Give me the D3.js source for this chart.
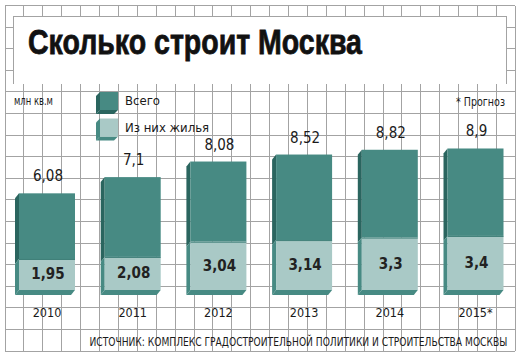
<!DOCTYPE html>
<html><head><meta charset="utf-8">
<script src="https://cdn.jsdelivr.net/npm/d3@7"></script>
<style>
html,body{margin:0;padding:0;background:#fff;}
svg{display:block;}
</style></head>
<body>
<svg id="chart" width="521" height="357"></svg>
<script>
const years = ["2010","2011","2012","2013","2014","2015*"];
const totalValues = [6.08, 7.1, 8.08, 8.52, 8.82, 8.9];
const housingValues = [1.95, 2.08, 3.04, 3.14, 3.3, 3.4];
const totalLabels = ["6,08","7,1","8,08","8,52","8,82","8,9"];
const housingLabels = ["1,95","2,08","3,04","3,14","3,3","3,4"];
const seriesNames = ["Всего","Из них жилья"];
const titleText = "Сколько строит Москва";
const unitText = "млн кв.м";
const noteText = "* Прогноз";
const sourceText = "ИСТОЧНИК: КОМПЛЕКС ГРАДОСТРОИТЕЛЬНОЙ ПОЛИТИКИ И СТРОИТЕЛЬСТВА МОСКВЫ";

const C = {grid:"#a3a3a3", teal:"#478a83", dark:"#2a655f", light:"#a9c9c6", text:"#1a1a1a"};
const narrow = "'Liberation Sans Narrow','DejaVu Sans Condensed','Liberation Sans',sans-serif";
const svg = d3.select("#chart");

// squeeze a text horizontally to a target width via transform
function fitText(sel, x, y, target) {
  const len = sel.node().getComputedTextLength();
  const k = len > target ? target / len : 1;
  sel.attr("x", 0).attr("y", 0).attr("transform", `translate(${x},${y}) scale(${k},1)`);
}

// background grid
const gx0 = 5, gdx = 18.9, nCols = 27, gy0 = 5.5, gdy = 21.6, nRows = 16;
const gx1 = gx0 + gdx*nCols, gy1 = gy0 + gdy*nRows;
const grid = svg.append("g").attr("stroke", C.grid).attr("stroke-width", 1).attr("shape-rendering","crispEdges");
grid.selectAll("line.v").data(d3.range(nCols+1)).join("line")
  .attr("x1", i => gx0 + i*gdx).attr("x2", i => gx0 + i*gdx).attr("y1", gy0).attr("y2", gy1);
grid.selectAll("line.h").data(d3.range(nRows+1)).join("line")
  .attr("y1", i => gy0 + i*gdy).attr("y2", i => gy0 + i*gdy).attr("x1", gx0).attr("x2", gx1);

// title box
svg.append("rect").attr("x", 13.5).attr("y", 16).attr("width", 492.5).attr("height", 68).attr("fill", "#fff");
svg.append("path").attr("d", "M13.5,84V16H506V84").attr("fill","none").attr("stroke", C.grid).attr("shape-rendering","crispEdges");
const title = svg.append("text").text(titleText)
  .attr("font-family", "'Liberation Sans','DejaVu Sans',sans-serif").attr("font-weight", 900)
  .attr("font-size", 36).attr("fill", "#111").attr("stroke", "#111").attr("stroke-width", 0.8);
fitText(title, 28, 54, 334);

// scales
const x = d3.scaleBand().domain(years).range([19, 503.5]).paddingInner(0.3466).paddingOuter(0);
const y = d3.scaleLinear().domain([0, 10]).range([290, 131]);
const dx = -4, dy = 5;

const bars = svg.append("g");
years.forEach((yr, i) => {
  const x0 = x(yr), w = x.bandwidth();
  const yT = y(totalValues[i]), yH = y(housingValues[i]), y0 = y(0);
  const g = bars.append("g");
  g.append("polygon").attr("points", [[x0,yT],[x0+dx,yT+dy],[x0+dx,yH+dy],[x0,yH]].join(" ")).attr("fill", C.dark);
  g.append("polygon").attr("points", [[x0,yH],[x0+dx,yH+dy],[x0+dx,y0+dy],[x0,y0]].join(" ")).attr("fill", C.teal);
  g.append("polygon").attr("points", [[x0,y0],[x0+w,y0],[x0+w+dx,y0+dy],[x0+dx,y0+dy]].join(" ")).attr("fill", C.teal);
  g.append("rect").attr("x", x0).attr("y", yT).attr("width", w).attr("height", yH - yT).attr("fill", C.teal);
  g.append("rect").attr("x", x0).attr("y", yH).attr("width", w).attr("height", y0 - yH).attr("fill", C.light);
  g.append("line").attr("x1", x0).attr("x2", x0+w).attr("y1", yH+0.5).attr("y2", yH+0.5).attr("stroke", "#3f7f78").attr("stroke-width", 1);
  g.append("text").attr("x", x0 + w/2 + 1).attr("y", yT - 12).attr("text-anchor", "middle")
    .attr("font-family", "'DejaVu Sans Condensed','Liberation Sans',sans-serif").attr("font-size", 15).attr("fill", C.text)
    .text(totalLabels[i]);
  g.append("text").attr("x", x0 + w/2 + 1).attr("y", (yH + y0)/2 + 5).attr("text-anchor", "middle")
    .attr("font-family", "'DejaVu Sans Condensed','Liberation Sans',sans-serif").attr("font-weight", 600).attr("font-size", 15).attr("fill", "#222")
    .text(housingLabels[i]);
  g.append("text").attr("x", x0 + w/2).attr("y", 316.5).attr("text-anchor", "middle")
    .attr("font-family", narrow).attr("font-size", 12.5).attr("fill", C.text).text(yr);
});

// legend
const legendFront = [C.teal, C.light];
const legendSide = [C.dark, C.teal];
seriesNames.forEach((name, i) => {
  const lx = 100, ly = 92 + i*26.5, lw = 18, lh = 18;
  const g = svg.append("g");
  g.append("polygon").attr("points", [[lx,ly],[lx+dx,ly+dy-1],[lx+dx,ly+lh+dy-1],[lx,ly+lh]].join(" ")).attr("fill", legendSide[i]);
  g.append("polygon").attr("points", [[lx,ly+lh],[lx+lw,ly+lh],[lx+lw+dx,ly+lh+dy-1],[lx+dx,ly+lh+dy-1]].join(" ")).attr("fill", legendSide[i]);
  g.append("rect").attr("x", lx).attr("y", ly).attr("width", lw).attr("height", lh).attr("fill", legendFront[i]);
  g.append("text").attr("x", 125).attr("y", ly + 13).attr("font-family", narrow).attr("font-size", 13).attr("fill", C.text).text(name);
});

const unit = svg.append("text").attr("font-family", narrow).attr("font-size", 12).attr("fill", C.text).text(unitText);
fitText(unit, 14, 105, 39);
const note = svg.append("text").attr("font-family", narrow).attr("font-size", 12.5).attr("fill", C.text).text(noteText);
fitText(note, 456, 106, 49);
const src = svg.append("text").attr("font-family", narrow).attr("font-size", 12.5).attr("fill", C.text).text(sourceText);
fitText(src, 89.5, 345.5, 418);
</script>
</body></html>
